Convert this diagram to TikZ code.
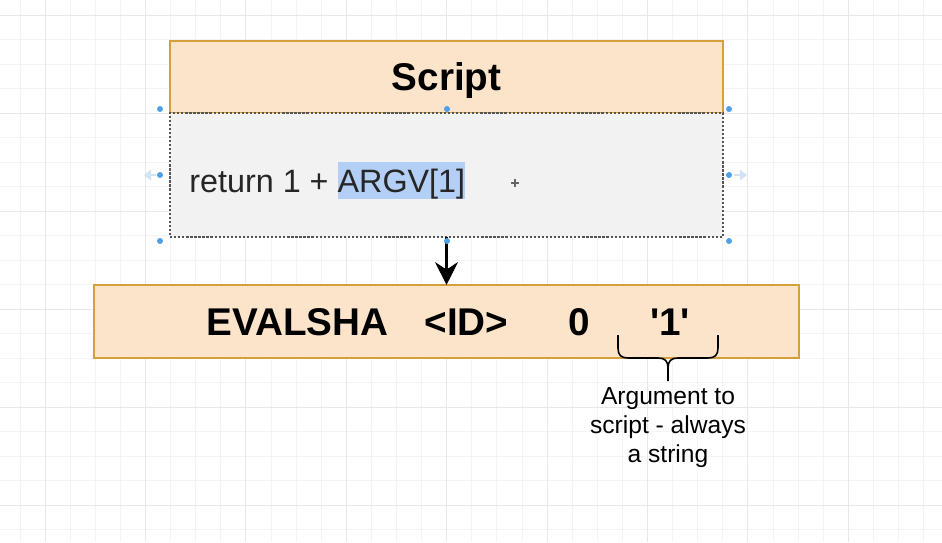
\documentclass[tikz,border=0pt]{standalone}
\usepackage{fontspec}
\setmainfont{Liberation Sans}
\usetikzlibrary{calc, positioning, arrows.meta}

\definecolor{boxfill}{HTML}{FBE4C9}
\definecolor{boxline}{HTML}{D4A03C}
\definecolor{bodyfill}{HTML}{F2F2F2}
\definecolor{bodyline}{HTML}{555555}
\definecolor{selblue}{HTML}{B4CFF5}
\definecolor{handle}{HTML}{4FA0E6}
\definecolor{handlefade}{HTML}{CFE3F5}
\definecolor{gridminor}{HTML}{F4F4F4}
\definecolor{gridmajor}{HTML}{E8E8E8}

\newcommand{\argmark}[1]{{\setlength{\fboxsep}{0pt}\colorbox{selblue}{\rule[-3.6pt]{0pt}{20.4pt}#1}}}

\tikzset{
  headbox/.style={draw=boxline, fill=boxfill, line width=1.2pt, outer sep=0pt, inner sep=0pt,
    font=\fontsize{22}{26}\selectfont\bfseries, text height=15.75pt, text depth=0pt},
  bodybox/.style={draw=bodyline, fill=bodyfill, line width=1.3pt, densely dotted, outer sep=0pt, inner sep=0pt},
  codetext/.style={inner sep=0pt, text=black!85, font=\fontsize{18.4}{22}\selectfont},
  notetext/.style={inner sep=0pt, align=center, font=\fontsize{14}{16.6}\selectfont},
  flowarrow/.style={line width=1.2pt, -{Stealth[length=13pt, width=13pt]}},
  bracepen/.style={line width=0.9pt},
  selhandle/.style={fill=handle},
}

\begin{document}
\begin{tikzpicture}[x=0.02cm, y=-0.02cm]
  \useasboundingbox (0,0) rectangle (942,542);

  % background grid
  \foreach \k in {0,...,36} \draw[gridminor, line width=0.5pt] ({20+25.1*\k},0) -- ({20+25.1*\k},542);
  \foreach \k in {0,...,21} \draw[gridminor, line width=0.5pt] (0,{15+24.5*\k}) -- (942,{15+24.5*\k});
  \foreach \k in {0,...,8} \draw[gridmajor, line width=0.5pt] ({45.1+100.4*\k},0) -- ({45.1+100.4*\k},542);
  \foreach \k in {0,...,5} \draw[gridmajor, line width=0.5pt] (0,{15+98*\k}) -- (942,{15+98*\k});

  % script box
  \node[headbox, minimum width=11.06cm, minimum height=1.44cm] (script-head) at (446.5,77) {Script};
  \node[bodybox, minimum width=11.06cm, minimum height=2.48cm, below=0pt of script-head] (script-body) {};
  \node[codetext, anchor=base west] (script-code) at (189,192) {return 1 + \argmark{ARGV[1]}};

  % command box
  \node[headbox, minimum width=14.1cm, minimum height=1.46cm, below=0.96cm of script-body] (evalsha)
    {\hspace{2pt}EVALSHA\hspace{20.6pt}<ID>\hspace{34.5pt}0\hspace{34pt}\textquotesingle 1\textquotesingle};

  \draw[flowarrow] (script-body) to (evalsha);

  % selection handles
  \foreach \hx in {160, 447, 729} {
    \fill[selhandle] (\hx,109) circle[radius=1.7pt];
    \fill[selhandle] (\hx,241) circle[radius=1.7pt];
  }
  \fill[selhandle] (160,175) circle[radius=1.7pt];
  \fill[selhandle] (729,175) circle[radius=1.7pt];
  \draw[handlefade, line width=1.4pt, -{Triangle[length=4pt, width=6pt]}] (156,175) to (144,175);
  \draw[handlefade, line width=1.4pt, -{Triangle[length=4pt, width=6pt]}] (734,175) to (747,175);
  \draw[black!60, line width=0.6pt] (511,183) to (519,183) (515,179) to (515,187);

  % brace under the argument
  \coordinate (brace-left)  at (618,335);
  \coordinate (brace-right) at (718,335);
  \coordinate (brace-tip)   at ($(brace-left)!0.5!(brace-right) + (0,46)$);

  \draw[bracepen] (brace-left) -- ++(0,13) .. controls +(0,7) and +(-7,0) .. ++(10,10)
    -- ($(brace-tip) + (-10,-23)$) .. controls +(7,0) and +(0,-7) .. ($(brace-tip) + (0,-13)$) -- (brace-tip);
  \draw[bracepen] (brace-right) -- ++(0,13) .. controls +(0,7) and +(7,0) .. ++(-10,10)
    -- ($(brace-tip) + (10,-23)$) .. controls +(-7,0) and +(0,-7) .. ($(brace-tip) + (0,-13)$);

  \node[notetext, anchor=north] (arg-note) at ($(brace-tip) + (0,6)$) {Argument to\\script - always\\a string};

\end{tikzpicture}
\end{document}
